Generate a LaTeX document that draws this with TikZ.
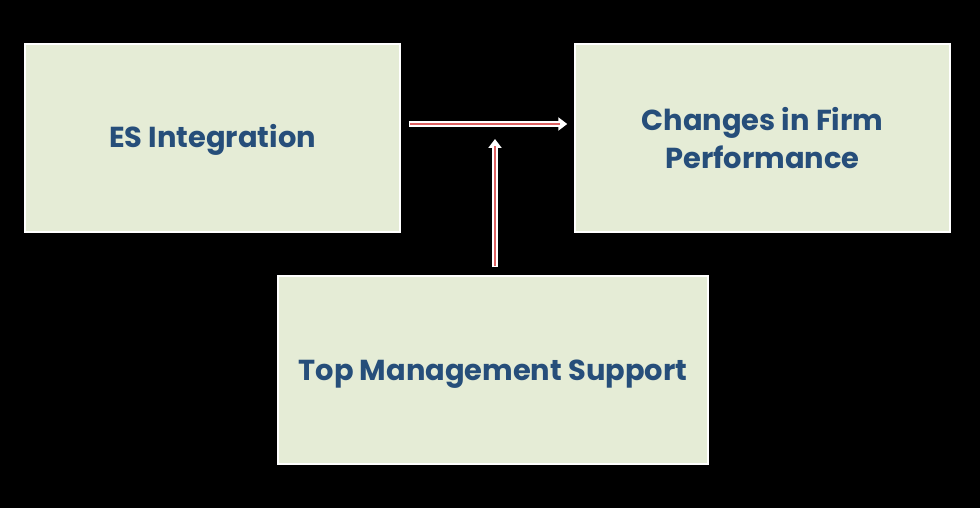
\documentclass[tikz,border=0pt]{standalone}
\usepackage{fontspec}
\setmainfont{Poppins}
\usepackage{tikz}
\usetikzlibrary{arrows.meta,positioning,calc}
\definecolor{boxfill}{RGB}{229,236,214}
\definecolor{boxtext}{RGB}{38,78,122}
\definecolor{linkred}{RGB}{222,98,98}

\begin{document}
\begin{tikzpicture}[
    x=1bp, y=-1bp,
    factor/.style={draw=white, line width=1.5bp, fill=boxfill, inner sep=0pt,
        minimum width=375bp, minimum height=188bp, text=boxtext,
        font=\fontsize{29}{39}\selectfont\bfseries, align=center},
    link outer/.style={draw=white, line width=5.5bp, -{Triangle[length=9bp,width=13bp]}},
    link inner/.style={draw=linkred, line width=2.8bp}
]
    % Background
    \fill[black] (0,0) rectangle (980,508);

    % Constructs
    \node[factor] (es) at (212.5,138) {\raisebox{-10bp}[0pt][0pt]{ES Integration}};
    \node[factor] (perf) at (762.5,138) {Changes in Firm\\Performance};
    \node[factor, minimum width=430bp] (tms) at (493,370) {\raisebox{-11bp}[0pt][0pt]{Top Management Support}};

    % Moderation point
    \coordinate (join) at (495,124);

    % Direct effect
    \draw[link outer, shorten <=8bp, shorten >=7bp] (es.east |- join) -- (perf.west |- join);
    \draw[link inner, shorten <=9.5bp, shorten >=14bp] (es.east |- join) -- (perf.west |- join);

    % Moderating effect
    \draw[link outer, shorten <=8bp, shorten >=15bp] (tms.north -| join) -- (join);
    \draw[link inner, shorten <=9.5bp, shorten >=22bp] (tms.north -| join) -- (join);
\end{tikzpicture}
\end{document}
